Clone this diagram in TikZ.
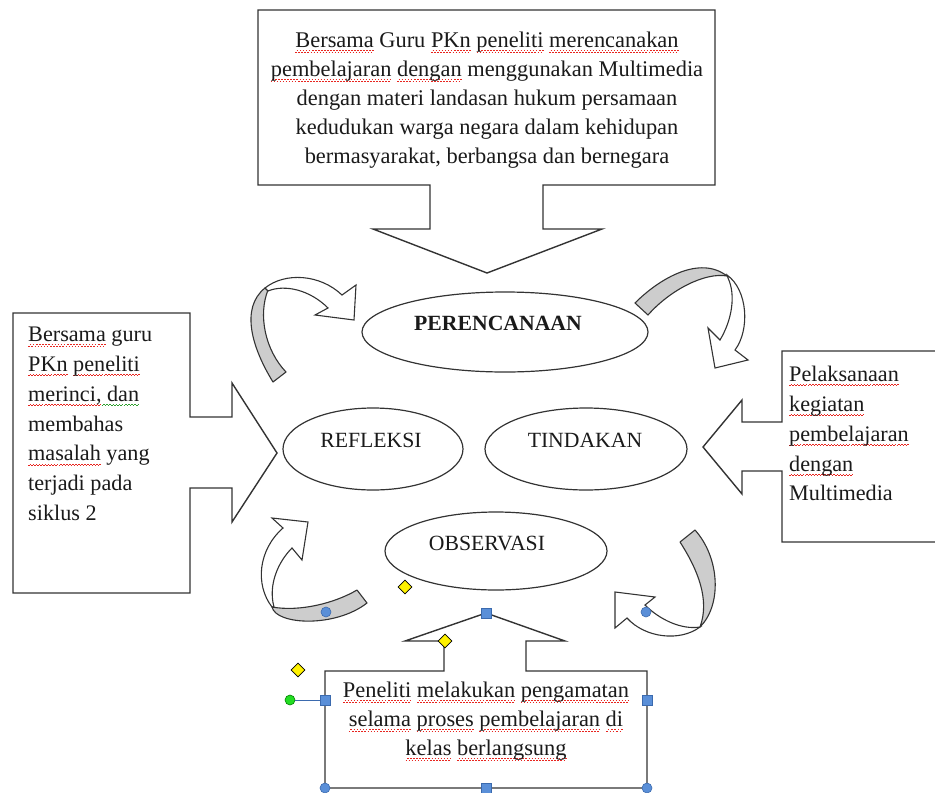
\documentclass[tikz,border=0pt]{standalone}
\usepackage{fontspec}
\setmainfont{Liberation Serif}
\usetikzlibrary{shapes.geometric}
\definecolor{ln}{HTML}{333333}
\definecolor{bandgray}{HTML}{CDCDCD}
\definecolor{hblue}{HTML}{5A8FD8}
\definecolor{hborder}{HTML}{3B6AAE}
\definecolor{hyellow}{HTML}{FFF200}
\definecolor{hgreen}{HTML}{22DD22}
\definecolor{spred}{HTML}{E8251F}
\definecolor{spgreen}{HTML}{2E9E2E}
\definecolor{tx}{HTML}{1A1A1A}
\newcommand\wv[2]{\setbox0\hbox{#2}\rlap{\raisebox{-4.6pt}[0pt][0pt]{\textcolor{#1}{\hbox to\wd0{\xleaders\hbox{\rule[0pt]{1.5pt}{0.8pt}\rule[1.1pt]{1.5pt}{0.8pt}}\hfill}}}}\box0\relax}
\newcommand\rw[1]{\wv{spred}{#1}}
\newcommand\gw[1]{\wv{spgreen}{#1}}
\begin{document}
\begin{tikzpicture}[x=1pt,y=-1pt,
  shp/.style={draw=ln,line width=1.4pt,fill=white,line join=miter},
  band/.style={draw=ln,line width=1.1pt,fill=bandgray,line join=round},
  curv/.style={draw=ln,line width=1.1pt,fill=white,line join=miter},
  ell/.style={draw=ln,line width=1.2pt,ellipse,inner sep=0pt},
  etxt/.style={inner sep=0pt,text=tx,font=\fontsize{21.7}{29}\selectfont},
  txt/.style={inner sep=0pt,text=tx,font=\fontsize{22.4}{29}\selectfont},
  ltxt/.style={inner sep=0pt,text=tx,font=\fontsize{22.2}{29.8}\selectfont},
  hsq/.style={draw=hborder,fill=hblue,minimum size=10pt,inner sep=0pt,line width=0.6pt},
  hcirc/.style={draw=hborder,fill=hblue,circle,minimum size=10pt,inner sep=0pt,line width=0.6pt},
  hdia/.style={draw=black,fill=hyellow,diamond,minimum size=14pt,inner sep=0pt,line width=0.6pt},
  hgrn/.style={draw=green!50!black,fill=hgreen,circle,minimum size=10pt,inner sep=0pt,line width=0.6pt}]
\useasboundingbox (0,0) rectangle (935,793);
\clip (0,0) rectangle (935,793);

% callout shapes
\draw[shp] (258,10) -- (715,10) -- (715,185) -- (543,185) -- (543,229) -- (602,229) -- (487,273) -- (373,229) -- (430,229) -- (430,185) -- (258,185) -- cycle;
\draw[shp] (13,313) -- (190,313) -- (190,417) -- (232,417) -- (232,383) -- (277,453) -- (232,522) -- (232,488) -- (190,488) -- (190,593) -- (13,593) -- cycle;
\draw[shp] (950,351) -- (782,351) -- (782,422) -- (742,422) -- (742,400) -- (703,447) -- (742,494) -- (742,471) -- (782,471) -- (782,542) -- (950,542);
\draw[shp] (325,671) -- (444,671) -- (444,641) -- (405,641) -- (486,613) -- (565,641) -- (526,641) -- (526,671) -- (647,671) -- (647,788) -- (325,788) -- cycle;

% ellipses
\node[ell,minimum width=286pt,minimum height=80pt] (per) at (505,332) {};
\node[ell,minimum width=180pt,minimum height=82pt] (ref) at (373,449) {};
\node[ell,minimum width=202pt,minimum height=82pt] (tin) at (586,449) {};
\node[ell,minimum width=222pt,minimum height=78pt] (obs) at (496,551) {};
\node[etxt,anchor=base] (perT) at (498,330) {\textbf{PERENCANAAN}};
\node[etxt,anchor=base] (refT) at (371,447) {REFLEKSI};
\node[etxt,anchor=base] (tinT) at (585,447) {TINDAKAN};
\node[etxt,anchor=base] (obsT) at (487,550) {OBSERVASI};

% curved arrows
\draw[band] (273,382) .. controls (252,348) and (240,308) .. (265,288) -- (268,290) .. controls (258,315) and (265,350) .. (286,372) -- cycle;
\draw[curv] (265,288) .. controls (285,272) and (320,274) .. (342,295) -- (356,285) -- (354,320) -- (315,315) -- (328,308) .. controls (310,290) and (285,284) .. (268,291) -- cycle;

\draw[band] (635,303) .. controls (660,278) and (700,255) .. (727,276) .. controls (705,272) and (670,290) .. (648,315) -- cycle;
\draw[curv] (727,275) .. controls (748,290) and (750,330) .. (735,350) -- (748,360) -- (715,368) -- (708,328) -- (720,340) .. controls (732,320) and (736,295) .. (728,278) -- cycle;

\draw[curv] (272,607) .. controls (255,585) and (258,550) .. (283,528) -- (272,518) -- (308,522) -- (302,560) -- (292,548) .. controls (278,562) and (268,585) .. (274,607) -- cycle;
\draw[band] (357,590) .. controls (335,603) and (300,612) .. (272,607) .. controls (276,625) and (335,628) .. (367,603) -- cycle;

\draw[band] (680,542) .. controls (698,570) and (710,600) .. (700,627) .. controls (722,605) and (720,558) .. (695,530) -- cycle;
\draw[curv] (700,627) .. controls (680,642) and (645,638) .. (627,618) -- (615,628) -- (615,592) -- (655,597) -- (645,605) .. controls (660,620) and (682,630) .. (700,627) -- cycle;

% texts
\node[txt,align=center,anchor=north] (topT) at (487,32) {\rw{Bersama} Guru \rw{PKn} \rw{peneliti} \rw{merencanakan}\\ \rw{pembelajaran} \rw{dengan} menggunakan Multimedia\\ dengan materi landasan hukum persamaan\\ kedudukan warga negara dalam kehidupan\\ bermasyarakat, berbangsa dan bernegara};
\node[ltxt,align=left,anchor=north west] (leftT) at (28,327) {\rw{Bersama} guru\\ \rw{PKn} \rw{peneliti}\\ \rw{merinci,}\gw{ dan}\\ membahas\\ \rw{masalah} yang\\ terjadi pada\\ siklus 2};
\node[ltxt,align=left,anchor=north west] (rightT) at (789,366) {\rw{Pelaksanaan}\\ \rw{kegiatan}\\ \rw{pembelajaran}\\ \rw{dengan}\\ Multimedia};
\node[txt,align=center,anchor=north] (botT) at (486,682) {\rw{Peneliti} \rw{melakukan} \rw{pengamatan}\\ \rw{selama} \rw{proses} \rw{pembelajaran} \rw{di}\\ \rw{kelas} \rw{berlangsung}};

% selection handles
\node[hgrn] (g) at (290,700) {};
\node[hsq] (hl) at (325,700) {};
\draw[hborder,line width=0.8pt] (g) -- (hl);
\node[hsq] (ht) at (486,613) {};
\node[hsq] (hr) at (647,700) {};
\node[hsq] (hb) at (486,788) {};
\node[hcirc] (hbl) at (325,788) {};
\node[hcirc] (hbr) at (647,788) {};
\node[hcirc] (ca) at (326,612) {};
\node[hcirc] (cb) at (646,612) {};
\node[hdia] (d1) at (445,641) {};
\node[hdia] (d2) at (298,670) {};
\node[hdia] (d3) at (405,587) {};
\end{tikzpicture}
\end{document}
